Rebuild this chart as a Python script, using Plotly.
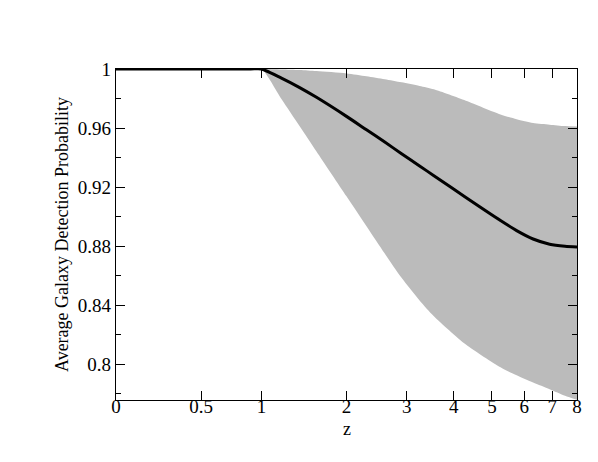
import plotly.graph_objects as go

# Redshift samples
z = [0.0, 0.5, 0.9, 1.0, 1.2, 1.4, 1.6, 2.0, 2.3, 2.6, 2.9, 3.25, 3.55, 4.3, 5.25, 5.75, 6.3, 6.9, 7.5, 8.0]
# Average detection probability (mean curve)
p_mean = [1.0, 1.0, 1.0, 1.0, 0.9938, 0.9874, 0.9808, 0.9679, 0.9588, 0.9505, 0.9426, 0.9343, 0.9277, 0.9129,
          0.8973, 0.8905, 0.8848, 0.8813, 0.8799, 0.8794]
# Band edges
p_upper = [1.0, 1.0, 1.0, 1.0, 0.9997, 0.9993, 0.9986, 0.997, 0.9951, 0.9931, 0.991, 0.9885, 0.9862, 0.9785,
           0.9692, 0.9660, 0.9634, 0.9623, 0.9613, 0.9611]
p_lower = [1.0, 1.0, 1.0, 1.0, 0.9797, 0.9612, 0.9441, 0.9137, 0.8934, 0.8749, 0.8585, 0.8432, 0.8325, 0.8133,
           0.7979, 0.7924, 0.7875, 0.7830, 0.7786, 0.7759]

x_tick_z = [0, 0.5, 1, 2, 3, 4, 5, 6, 7, 8]
x_tick_text = ["0", "0.5", "1", "2", "3", "4", "5", "6", "7", "8"]
y_tick_vals = [0.8, 0.84, 0.88, 0.92, 0.96, 1.0]
y_tick_text = ["0.8", "0.84", "0.88", "0.92", "0.96", "1"]

x = [1 + v for v in z]
font = "Liberation Serif, DejaVu Serif, Times New Roman, Times, serif"

fig = go.Figure()
fig.add_trace(go.Scatter(x=x, y=p_lower, mode="lines", line=dict(width=0, shape="spline", smoothing=0.7, color="#bbbbbb"),
                         showlegend=False, hoverinfo="skip"))
fig.add_trace(go.Scatter(x=x, y=p_upper, mode="lines", line=dict(width=0, shape="spline", smoothing=0.7, color="#bbbbbb"),
                         fill="tonexty", fillcolor="#bbbbbb", showlegend=False, hoverinfo="skip"))
fig.add_trace(go.Scatter(x=x, y=p_mean, mode="lines", line=dict(width=3, color="black", shape="spline", smoothing=0.7),
                         showlegend=False))

# page body has an 8px margin: shrink figure so plot area lands at 116..577 x 69..392
fig.update_layout(
    width=590, height=454,
    margin=dict(l=108, r=21, t=61, b=62, autoexpand=False),
    paper_bgcolor="white", plot_bgcolor="white",
    font=dict(family=font, size=18, color="black"),
    xaxis=dict(
        type="log", range=[0, 0.95424],
        tickvals=[1 + v for v in x_tick_z], ticktext=x_tick_text,
        ticks="inside", ticklen=9, tickwidth=1, tickcolor="black",
        showline=True, linecolor="black", linewidth=1.3, mirror="ticks",
        showgrid=False, zeroline=False, automargin=False,
        ticklabelstandoff=-11,
        tickfont=dict(family=font, size=19),
    ),
    yaxis=dict(
        range=[0.7757, 1.0],
        tickvals=y_tick_vals, ticktext=y_tick_text,
        ticks="inside", ticklen=9, tickwidth=1, tickcolor="black",
        minor=dict(dtick=0.02, tick0=0.8, ticks="inside", ticklen=5, tickcolor="black", tickwidth=1, showgrid=False),
        showline=True, linecolor="black", linewidth=1.3, mirror="ticks",
        showgrid=False, zeroline=False, automargin=False,
        title=dict(text="Average Galaxy Detection Probability", standoff=4, font=dict(family=font, size=18)),
        tickfont=dict(family=font, size=19),
    ),
    annotations=[dict(text="z", xref="paper", yref="paper", x=0.5, y=0, xanchor="center", yanchor="middle",
                      yshift=-29, showarrow=False, font=dict(family=font, size=18, color="black"))],
)

fig.write_html("out.html")
